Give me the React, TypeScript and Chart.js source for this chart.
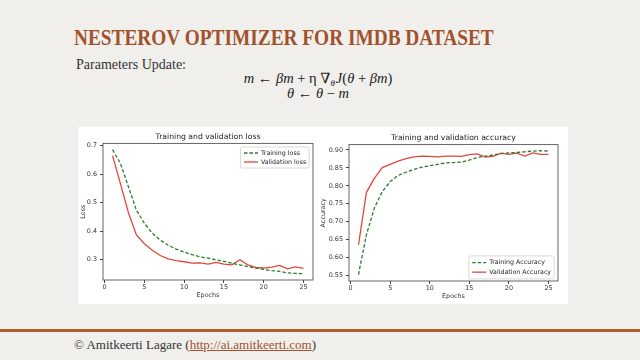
import React, { useEffect, useRef } from "react";
import { Chart, registerables } from "chart.js";

Chart.register(...registerables);

// ---------- data ----------
const epochs = [1, 2, 3, 4, 5, 6, 7, 8, 9, 10, 11, 12, 13, 14, 15, 16, 17, 18, 19, 20, 21, 22, 23, 24, 25];
const trainLoss = [0.686, 0.637, 0.556, 0.474, 0.428, 0.393, 0.369, 0.351, 0.337, 0.327, 0.318, 0.31, 0.306, 0.3, 0.294, 0.288, 0.282, 0.276, 0.271, 0.266, 0.262, 0.259, 0.254, 0.252, 0.251];
const valLoss = [0.665, 0.566, 0.465, 0.387, 0.356, 0.333, 0.315, 0.303, 0.297, 0.293, 0.288, 0.289, 0.285, 0.291, 0.285, 0.282, 0.3, 0.282, 0.273, 0.271, 0.274, 0.28, 0.268, 0.275, 0.27];
const trainAcc = [0.553, 0.664, 0.738, 0.784, 0.812, 0.829, 0.838, 0.846, 0.852, 0.856, 0.86, 0.864, 0.865, 0.866, 0.872, 0.879, 0.883, 0.886, 0.89, 0.892, 0.893, 0.895, 0.897, 0.898, 0.897];
const valAcc = [0.636, 0.782, 0.821, 0.851, 0.86, 0.869, 0.876, 0.881, 0.883, 0.882, 0.881, 0.883, 0.883, 0.882, 0.887, 0.889, 0.88, 0.882, 0.891, 0.888, 0.891, 0.883, 0.892, 0.888, 0.888];
const epochTicks = [0, 5, 10, 15, 20, 25];
const lossTicks = [0.3, 0.4, 0.5, 0.6, 0.7];
const accTicks = [0.55, 0.6, 0.65, 0.7, 0.75, 0.8, 0.85, 0.9];

const GREEN = "#2b7a30";
const RED = "#e2473c";
const FONT = '"DejaVu Sans", sans-serif';

const framePlugin = {
  id: "mplFrame",
  afterDatasetsDraw(chart: any) {
    const { ctx, chartArea: a } = chart;
    ctx.save();
    ctx.strokeStyle = "#555";
    ctx.lineWidth = 0.9;
    ctx.strokeRect(a.left, a.top, a.right - a.left, a.bottom - a.top);
    ctx.restore();
  },
};

const axesTitlePlugin = {
  id: "mplTitle",
  afterDraw(chart: any, _args: any, opts: any) {
    const { ctx, chartArea: a } = chart;
    ctx.save();
    ctx.font = `7.7px ${FONT}`;
    ctx.fillStyle = "#222";
    ctx.textAlign = "center";
    ctx.textBaseline = "middle";
    ctx.fillText(opts.text, (a.left + a.right) / 2, opts.y);
    ctx.restore();
  },
};

const legendPlugin = {
  id: "mplLegend",
  afterDraw(chart: any, _args: any, opts: any) {
    const { ctx, chartArea: a } = chart;
    const fs = 6.3;
    ctx.save();
    ctx.font = `${fs}px ${FONT}`;
    const items = chart.data.datasets;
    const textW = Math.max(...items.map((d: any) => ctx.measureText(d.label).width));
    const handle = 14, gap = 3, padL = 3.5, padR = 3;
    const rowH = opts.rowH, padV = opts.padV;
    const w = padL + handle + gap + textW + padR;
    const h = padV * 2 + rowH * items.length;
    const x = a.right - opts.insetX - w;
    const y = opts.corner === "tr" ? a.top + opts.insetY : a.bottom - opts.insetY - h;
    const r = 2;
    ctx.beginPath();
    ctx.moveTo(x + r, y);
    ctx.lineTo(x + w - r, y);
    ctx.quadraticCurveTo(x + w, y, x + w, y + r);
    ctx.lineTo(x + w, y + h - r);
    ctx.quadraticCurveTo(x + w, y + h, x + w - r, y + h);
    ctx.lineTo(x + r, y + h);
    ctx.quadraticCurveTo(x, y + h, x, y + h - r);
    ctx.lineTo(x, y + r);
    ctx.quadraticCurveTo(x, y, x + r, y);
    ctx.closePath();
    ctx.fillStyle = "rgba(255,255,255,0.85)";
    ctx.fill();
    ctx.strokeStyle = "#cfcfcf";
    ctx.lineWidth = 0.8;
    ctx.stroke();
    items.forEach((d: any, i: number) => {
      const cy = y + padV + rowH * i + rowH / 2;
      ctx.beginPath();
      ctx.setLineDash(d.borderDash || []);
      ctx.strokeStyle = d.borderColor;
      ctx.lineWidth = d.borderWidth;
      ctx.moveTo(x + padL, cy);
      ctx.lineTo(x + padL + handle, cy);
      ctx.stroke();
      ctx.setLineDash([]);
      ctx.fillStyle = "#222";
      ctx.textBaseline = "middle";
      ctx.textAlign = "left";
      ctx.fillText(d.label, x + padL + handle + gap, cy);
    });
    ctx.restore();
  },
};

type ChartProps = {
  left: number;
  top: number;
  width: number;
  height: number;
  title: string;
  titleY: number;
  topPad: number;
  yLabel: string;
  xTitlePadBottom: number;
  yWidth: number;
  xHeight: number;
  rightPad: number;
  yMin: number;
  yMax: number;
  yTicks: number[];
  yDecimals: number;
  labels: [string, string];
  train: number[];
  val: number[];
  legend: any;
};

function MplChart(p: ChartProps) {
  const ref = useRef<HTMLCanvasElement | null>(null);
  useEffect(() => {
    if (!ref.current) return;
    const tickFont = { family: FONT, size: 6.4 };
    const chart = new Chart(ref.current, {
      type: "line",
      data: {
        datasets: [
          {
            label: p.labels[0],
            data: epochs.map((e, i) => ({ x: e, y: p.train[i] })),
            borderColor: GREEN,
            borderDash: [3.5, 2],
            borderWidth: 1.3,
            pointRadius: 0,
            tension: 0,
            fill: false,
          },
          {
            label: p.labels[1],
            data: epochs.map((e, i) => ({ x: e, y: p.val[i] })),
            borderColor: RED,
            borderWidth: 1.3,
            pointRadius: 0,
            tension: 0,
            fill: false,
          },
        ],
      },
      options: {
        animation: false,
        responsive: false,
        devicePixelRatio: 1,
        events: [],
        layout: { padding: { left: 0, right: p.rightPad, top: p.topPad, bottom: 0 } },
        plugins: {
          legend: { display: false },
          tooltip: { enabled: false },
          title: { display: false },
          mplTitle: { text: p.title, y: p.titleY },
          mplLegend: p.legend,
        } as any,
        scales: {
          x: {
            type: "linear",
            min: -0.2,
            max: 26.2,
            afterBuildTicks: (s: any) => {
              s.ticks = epochTicks.map((v) => ({ value: v }));
            },
            afterFit: (s: any) => {
              s.height = p.xHeight;
            },
            ticks: {
              font: tickFont,
              color: "#333",
              padding: 1,
              maxRotation: 0,
              autoSkip: false,
              callback: (v: any) => String(v),
            },
            grid: { display: true, drawOnChartArea: false, drawTicks: true, tickLength: 3, color: "#444" },
            border: { display: false },
            title: {
              display: true,
              text: "Epochs",
              color: "#333",
              font: tickFont,
              padding: { top: 0, bottom: p.xTitlePadBottom },
            },
          },
          y: {
            type: "linear",
            min: p.yMin,
            max: p.yMax,
            afterBuildTicks: (s: any) => {
              s.ticks = p.yTicks.map((v) => ({ value: v }));
            },
            afterFit: (s: any) => {
              s.width = p.yWidth;
            },
            ticks: {
              font: tickFont,
              color: "#333",
              padding: 3,
              autoSkip: false,
              callback: (v: any) => Number(v).toFixed(p.yDecimals),
            },
            grid: { display: true, drawOnChartArea: false, drawTicks: true, tickLength: 3, color: "#444" },
            border: { display: false },
            title: {
              display: true,
              text: p.yLabel,
              color: "#333",
              font: tickFont,
              padding: { top: 1.5, bottom: 0 },
            },
          },
        },
      },
      plugins: [framePlugin, axesTitlePlugin, legendPlugin],
    } as any);
    return () => chart.destroy();
  }, []);
  return (
    <canvas
      ref={ref}
      width={p.width}
      height={p.height}
      style={{ position: "absolute", left: p.left, top: p.top, width: p.width, height: p.height }}
    />
  );
}

const serif = '"Liberation Serif", "DejaVu Serif", serif';

export default function App() {
  return (
    <div
      style={{
        position: "fixed",
        left: 0,
        top: 0,
        width: 640,
        height: 360,
        background: "#f1efec",
        overflow: "hidden",
        fontFamily: serif,
      }}
    >
      <div
        style={{
          position: "absolute",
          left: 74,
          top: 25,
          fontSize: 24,
          lineHeight: "24px",
          fontWeight: 700,
          color: "#a0522d",
          whiteSpace: "nowrap",
          transform: "scaleX(0.805)",
          transformOrigin: "left top",
        }}
      >
        NESTEROV OPTIMIZER FOR IMDB DATASET
      </div>
      <div
        style={{
          position: "absolute",
          left: 76,
          top: 57.6,
          fontSize: 14,
          lineHeight: "14px",
          color: "#333",
          whiteSpace: "nowrap",
        }}
      >
        Parameters Update:
      </div>
      <div
        style={{
          position: "absolute",
          left: 168,
          width: 300,
          top: 70.6,
          fontSize: 14.5,
          lineHeight: "14px",
          color: "#222",
          textAlign: "center",
          whiteSpace: "nowrap",
        }}
      >
        <i>m</i> ← <i>βm</i> + η <i>∇</i>
        <span style={{ fontSize: 9, position: "relative", top: 3, lineHeight: 0, marginRight: 1 }}>
          <i>θ</i>
        </span>
        <i>J</i>(<i>θ</i> + <i>βm</i>)
      </div>
      <div
        style={{
          position: "absolute",
          left: 168,
          width: 300,
          top: 86.3,
          fontSize: 14.5,
          lineHeight: "14px",
          color: "#222",
          textAlign: "center",
          whiteSpace: "nowrap",
        }}
      >
        <i>θ</i> ← <i>θ</i> − <i>m</i>
      </div>

      <div style={{ position: "absolute", left: 78, top: 127, width: 490, height: 177, background: "#ffffff" }} />

      <MplChart
        left={78}
        top={127}
        width={238}
        height={177}
        title="Training and validation loss"
        titleY={9.7}
        topPad={16.4}
        yLabel="Loss"
        xTitlePadBottom={4.5}
        yWidth={25}
        xHeight={24}
        rightPad={3}
        yMin={0.229}
        yMax={0.708}
        yTicks={lossTicks}
        yDecimals={1}
        labels={["Training loss", "Validation loss"]}
        train={trainLoss}
        val={valLoss}
        legend={{ corner: "tr", insetX: 3.8, insetY: 3.6, rowH: 9, padV: 1.5 }}
      />
      <MplChart
        left={318}
        top={127}
        width={249}
        height={177}
        title="Training and validation accuracy"
        titleY={11.3}
        topPad={17.6}
        yLabel="Accuracy"
        xTitlePadBottom={3.5}
        yWidth={31}
        xHeight={23}
        rightPad={9}
        yMin={0.535}
        yMax={0.915}
        yTicks={accTicks}
        yDecimals={2}
        labels={["Training Accuracy", "Validation Accuracy"]}
        train={trainAcc}
        val={valAcc}
        legend={{ corner: "br", insetX: 3.9, insetY: 2.1, rowH: 9.5, padV: 2 }}
      />

      <div style={{ position: "absolute", left: 0, top: 328.5, width: 640, height: 3, background: "#b15b2f" }} />
      <div
        style={{
          position: "absolute",
          left: 74,
          top: 338.4,
          fontSize: 13,
          lineHeight: "13px",
          color: "#333",
          whiteSpace: "nowrap",
        }}
      >
        © Amitkeerti Lagare (
        <span style={{ color: "#a0522d", textDecoration: "underline" }}>http://ai.amitkeerti.com</span>)
      </div>
    </div>
  );
}
